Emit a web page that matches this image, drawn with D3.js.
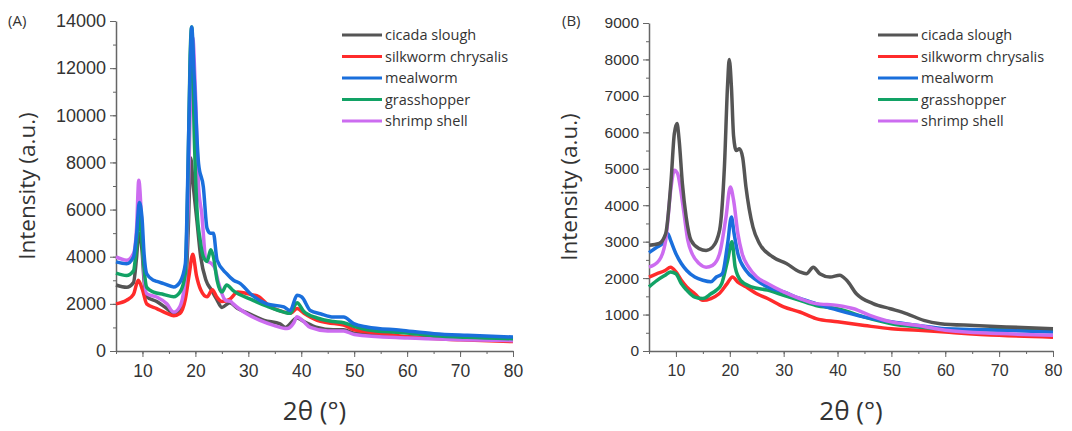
<!DOCTYPE html>
<html>
<head>
<meta charset="utf-8">
<script src="https://cdn.jsdelivr.net/npm/d3@7"></script>
<style>
  body { margin: 0; background: #fff; }
  svg { font-family: "Open Sans", "Noto Sans", sans-serif; }
  .axis path, .axis line { stroke: #666; }
  .axis text { fill: #333; }
</style>
</head>
<body>
<svg id="chart" width="1072" height="431"></svg>
<script>
var seriesNames = ["cicada slough", "silkworm chrysalis", "mealworm", "grasshopper", "shrimp shell"];
var seriesColors = ["#555555", "#ff2b2b", "#1a6fdc", "#12a265", "#cc6cf0"];

// panel (A) — [2theta, intensity]
var cicadaA = [[5,2800],[7,2700],[8.3,2900],[8.9,4000],[9.3,5000],[9.9,4300],[10.3,3000],[10.8,2300],[12.7,2100],[14.6,1800],[15.9,1600],[17.1,1700],[18.1,2500],[18.7,5500],[19.1,8200],[19.6,7000],[20.3,5500],[21,4000],[22,3000],[23,2600],[24,2200],[25,1850],[26.5,2050],[28,1800],[30,1600],[33,1300],[36,1150],[37,1000],[39.2,1400],[40.5,1250],[43,1000],[46,900],[48,900],[50,750],[60,600],[70,520],[80,480]];
var silkwormA = [[5,2000],[7,2150],[8.3,2400],[9.2,3000],[10,2600],[10.8,2000],[12.7,1800],[14.6,1600],[15.9,1500],[17.1,1600],[18.1,2200],[18.8,3200],[19.5,4100],[20.2,3200],[21,2600],[22.2,2300],[23.2,2600],[24,2300],[25,2100],[26.5,2200],[28,2500],[30.4,2400],[32,2300],[34,1900],[36,1700],[38,1600],[39.2,1800],[40.5,1600],[43,1300],[45,1200],[48,1100],[50,900],[55,750],[60,600],[70,480],[80,400]];
var mealwormA = [[5,3780],[7,3700],[8.3,3990],[8.9,4980],[9.4,6300],[9.9,5690],[10.3,4130],[10.8,3280],[12.1,3000],[12.7,2950],[14,2860],[15.9,2720],[17.1,2930],[18.1,3700],[18.6,7800],[19,12050],[19.3,13750],[19.8,11500],[20.6,7950],[21.5,6960],[22.2,5200],[22.8,5000],[23.4,5000],[24.1,3850],[25.9,3280],[27.2,3000],[28.5,2860],[30.4,2430],[33.5,2000],[36.7,1870],[37.9,1720],[39.2,2360],[40.1,2290],[41.7,1720],[43.6,1580],[46.1,1440],[48,1440],[49.9,1160],[52.4,1020],[58.8,880],[65.1,735],[71.4,665],[80,594]];
var grasshopperA = [[5,3300],[7,3200],[8.3,3400],[8.9,4500],[9.4,5800],[9.9,4700],[10.3,3500],[10.8,2700],[12.1,2500],[14,2400],[15.9,2300],[17.1,2500],[18.1,3300],[18.6,7500],[19,12500],[19.3,13750],[19.8,9000],[20.3,6000],[20.9,4700],[21.5,4000],[22.2,3800],[22.9,4300],[23.4,4000],[24.1,3000],[25,2500],[25.9,2800],[27.2,2550],[30.4,2200],[33.5,1900],[36.7,1650],[37.9,1600],[39.2,2050],[40.4,1700],[43,1400],[46.1,1250],[48,1200],[49.9,1050],[52.4,900],[58.8,780],[65.1,650],[71.4,580],[80,520]];
var shrimpA = [[5,3990],[7,3850],[8.3,4130],[8.9,5260],[9.3,7240],[9.9,5200],[10.3,3280],[10.8,2430],[12.7,2290],[14.6,2000],[15.9,1650],[17.1,1900],[18.1,3140],[18.6,6000],[19,10000],[19.5,13300],[20,11000],[20.6,6960],[21.2,5830],[22,3850],[23.1,3700],[23.7,3500],[24.4,2860],[25.7,2150],[26.7,2100],[27.1,2010],[29.7,1580],[32.2,1300],[34.8,1090],[37.3,950],[38.6,1200],[39.2,1450],[40.2,1300],[41.7,1000],[45,850],[48,850],[50,700],[60,550],[70,480],[80,440]];

// panel (B)
var cicadaB = [[5,2900],[6.9,2950],[8.1,3220],[9.1,4680],[9.7,5960],[10.2,6240],[10.6,5780],[11.2,4590],[11.9,3680],[12.8,3040],[14.3,2810],[15.6,2760],[16.8,2850],[18.1,3310],[19,5050],[19.6,7340],[19.9,8000],[20.3,7250],[20.7,5900],[21.2,5500],[21.8,5550],[22.4,5300],[23,4500],[23.6,3900],[24.3,3400],[25.5,2950],[28,2580],[30.5,2400],[33,2170],[34.2,2120],[35.5,2300],[36.7,2120],[38.6,2030],[40.4,2080],[41.7,1940],[43.5,1570],[46.6,1300],[49.8,1160],[52.9,1020],[56,840],[59.1,750],[65.3,700],[71.5,660],[80,610]];
var silkwormB = [[5,2030],[6.5,2120],[8,2210],[9,2300],[10,2170],[11,1940],[12,1760],[13.5,1570],[15,1390],[16.5,1440],[18,1570],[19.5,1850],[20.5,2030],[21.5,1890],[23,1760],[25,1570],[27,1440],[30,1210],[33,1070],[36,890],[40,800],[45,700],[50,610],[55,570],[60,520],[70,430],[80,380]];
var mealwormB = [[5,2700],[6.5,2850],[7.5,2950],[8.5,3220],[9,3040],[10,2670],[11,2400],[12,2210],[13.5,2030],[15,1940],[16.5,1900],[17.5,2030],[18.6,2120],[19.6,2950],[20.3,3680],[20.8,3220],[21.5,2670],[23,2210],[25,1940],[27,1760],[30,1620],[33,1440],[36,1300],[40,1120],[45,930],[50,800],[55,700],[60,610],[70,570],[80,520]];
var grasshopperB = [[5,1760],[6.5,1940],[8,2080],[9,2170],[10,2120],[11,1850],[12,1670],[13.5,1480],[15,1440],[16.5,1570],[17.5,1670],[18.5,1850],[19.6,2490],[20.4,3000],[21,2300],[22,1940],[24,1760],[27,1670],[30,1530],[33,1390],[36,1250],[40,1160],[45,930],[50,750],[55,660],[60,600],[70,580],[80,570]];
var shrimpB = [[5,2300],[6.9,2490],[8.1,3040],[9.1,4500],[9.7,4960],[10.3,4870],[10.8,4500],[11.5,3770],[12.2,3040],[13,2670],[14.3,2400],[15.6,2300],[16.8,2350],[18.1,2670],[19.3,3680],[20.1,4500],[20.7,4140],[21.5,3220],[22.3,2670],[23.5,2300],[25,2030],[27,1850],[30,1620],[33,1440],[36,1300],[40,1250],[43,1160],[46,980],[50,800],[55,700],[60,570],[70,480],[80,430]];

var xTicks = [10, 20, 30, 40, 50, 60, 70, 80];
var yTicksA = [0, 2000, 4000, 6000, 8000, 10000, 12000, 14000];
var yTicksB = [0, 1000, 2000, 3000, 4000, 5000, 6000, 7000, 8000, 9000];

var svg = d3.select("#chart");

function drawPanel(p) {
    var x = d3.scaleLinear().domain([5, 80]).range([p.left, p.right]);
    var y = d3.scaleLinear().domain([0, p.yMax]).range([p.bottom, p.top]);
    var g = svg.append("g");

    // minor ticks
    g.append("g")
        .attr("class", "axis")
        .attr("transform", "translate(0," + p.bottom + ")")
        .call(d3.axisBottom(x).tickValues(d3.range(5, 81, 5)).tickSize(3).tickFormat(""))
        .select(".domain").remove();
    g.append("g")
        .attr("class", "axis")
        .attr("transform", "translate(" + p.left + ",0)")
        .call(d3.axisLeft(y).tickValues(d3.range(0, p.yMax + 1, p.yStep / 2)).tickSize(3).tickFormat(""))
        .select(".domain").remove();

    var xa = g.append("g")
        .attr("class", "axis")
        .attr("transform", "translate(0," + p.bottom + ")")
        .call(d3.axisBottom(x).tickValues(xTicks).tickSize(6).tickSizeOuter(0).tickPadding(8));
    xa.selectAll("text").style("font-size", p.xFont + "px");

    var ya = g.append("g")
        .attr("class", "axis")
        .attr("transform", "translate(" + p.left + ",0)")
        .call(d3.axisLeft(y).tickValues(p.yTicks).tickSize(6).tickSizeOuter(0).tickPadding(4).tickFormat(d3.format("d")));
    ya.selectAll("text").style("font-size", p.yFont + "px");
    g.selectAll(".domain").attr("stroke-width", 1.5);

    var line = d3.line()
        .x(function(d) { return x(d[0]); })
        .y(function(d) { return y(d[1]); })
        .curve(d3.curveMonotoneX);

    p.order.forEach(function(i) {
        g.append("path")
            .datum(p.data[i])
            .attr("fill", "none")
            .attr("stroke", seriesColors[i])
            .attr("stroke-width", 3.5)
            .attr("stroke-linejoin", "round")
            .attr("d", line);
    });

    // legend
    seriesNames.forEach(function(name, i) {
        var ly = p.legendY + i * 21.5;
        g.append("line")
            .attr("x1", p.legendX).attr("x2", p.legendX + 40)
            .attr("y1", ly).attr("y2", ly)
            .attr("stroke", seriesColors[i])
            .attr("stroke-width", 3);
        g.append("text")
            .attr("x", p.legendX + 43)
            .attr("y", ly + 5)
            .style("font-size", "14.5px")
            .attr("fill", "#333")
            .text(name);
    });

    g.append("text")
        .attr("x", p.panelX)
        .attr("y", 26)
        .style("font-size", "15px")
        .attr("fill", "#333")
        .text(p.label);

    g.append("text")
        .attr("transform", "translate(" + p.yTitleX + "," + ((p.top + p.bottom) / 2) + ") rotate(-90)")
        .attr("text-anchor", "middle")
        .style("font-size", "22.5px")
        .attr("fill", "#333")
        .text("Intensity (a.u.)");

    g.append("text")
        .attr("x", (p.left + p.right) / 2)
        .attr("y", 420)
        .attr("text-anchor", "middle")
        .style("font-size", "26px")
        .attr("fill", "#333")
        .text("2θ (°)");
}

drawPanel({
    left: 116, right: 513, top: 21, bottom: 351,
    yMax: 14000, yStep: 2000, yTicks: yTicksA,
    xFont: 17.5, yFont: 18,
    data: [cicadaA, silkwormA, mealwormA, grasshopperA, shrimpA],
    order: [0, 1, 4, 3, 2],
    legendX: 342, legendY: 35,
    panelX: 8, label: "(A)", yTitleX: 35
});

drawPanel({
    left: 649, right: 1053, top: 23, bottom: 351,
    yMax: 9000, yStep: 1000, yTicks: yTicksB,
    xFont: 16, yFont: 15.5,
    data: [cicadaB, silkwormB, mealwormB, grasshopperB, shrimpB],
    order: [1, 3, 2, 4, 0],
    legendX: 878, legendY: 35,
    panelX: 562, label: "(B)", yTitleX: 577
});
</script>
</body>
</html>
